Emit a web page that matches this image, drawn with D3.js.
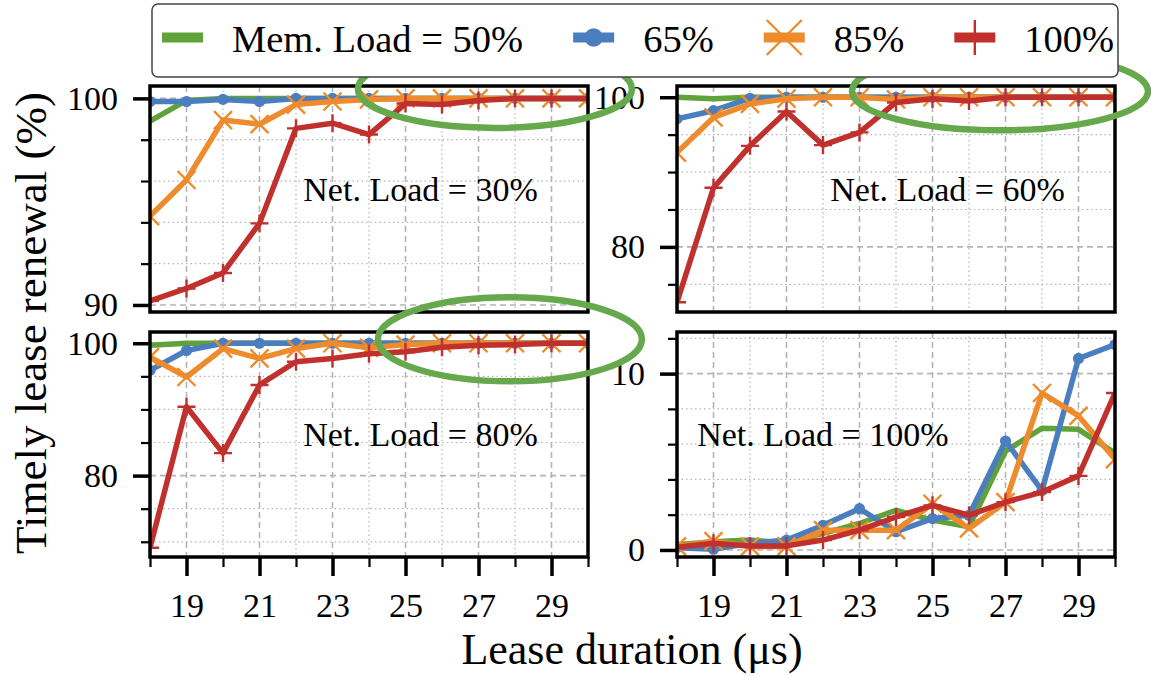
<!DOCTYPE html>
<html>
<head>
<meta charset="utf-8">
<script src="https://cdn.jsdelivr.net/npm/d3@7"></script>
<style>
  body { margin: 0; background: #fff; }
  text { font-family: "Liberation Serif", "DejaVu Serif", serif; fill: #000; }
</style>
</head>
<body>
<script>
// lease duration (us) on x
const leaseDurations = [18, 19, 20, 21, 22, 23, 24, 25, 26, 27, 28, 29, 30];
const xTickLabels = [19, 21, 23, 25, 27, 29];

const memLoads = ["Mem. Load = 50%", "65%", "85%", "100%"];
const netLoads = ["Net. Load = 30%", "Net. Load = 60%", "Net. Load = 80%", "Net. Load = 100%"];

// Net. Load = 30%
const net30Mem50  = [98.9, 99.9, 100, 100, 100, 100, 100, 100, 100, 100, 100, 100, 100];
const net30Mem65  = [99.85, 99.85, 99.95, 99.85, 100, 100, 100, 100, 100, 100, 100, 100, 100];
const net30Mem85  = [94.3, 96.05, 98.95, 98.75, 99.7, 99.85, 99.95, 100, 100, 100, 100, 100, 100];
const net30Mem100 = [90.2, 90.8, 91.55, 93.95, 98.55, 98.8, 98.25, 99.75, 99.7, 99.9, 100, 100, 100];

// Net. Load = 60%
const net60Mem50  = [100, 99.8, 100, 100, 100, 100, 100, 100, 100, 100, 100, 100, 100];
const net60Mem65  = [97.1, 98.2, 99.85, 100, 100, 100, 100, 100, 100, 100, 100, 100, 100];
const net60Mem85  = [92.6, 97.3, 99.1, 99.8, 100, 100, 99.7, 100, 100, 100, 100, 100, 100];
const net60Mem100 = [72.6, 87.9, 93.5, 98.1, 93.6, 95.3, 99.3, 99.8, 99.5, 100, 100, 100, 100];

// Net. Load = 80%
const net80Mem50  = [99.7, 100, 100, 100, 100, 100, 100, 100, 100, 100, 100, 100, 100];
const net80Mem65  = [95.9, 98.9, 100, 100, 100, 100, 100, 100, 100, 100, 100, 100, 100];
const net80Mem85  = [97.9, 94.9, 99.2, 97.7, 99.2, 100, 99.3, 99.8, 100, 100, 100, 100, 100];
const net80Mem100 = [69.1, 90.4, 83.4, 93.7, 97.2, 97.7, 98.4, 98.7, 99.4, 99.7, 99.8, 100, 100];

// Net. Load = 100%
const net100Mem50  = [0.3, 0.47, 0.56, 0.38, 0.94, 1.5, 2.25, 1.69, 1.31, 5.6, 6.9, 6.84, 5.5];
const net100Mem65  = [0.13, 0.04, 0.38, 0.56, 1.4, 2.34, 1.03, 1.78, 1.97, 6.18, 3.37, 10.86, 11.65];
const net100Mem85  = [0.2, 0.5, 0.2, 0.2, 1.12, 1.12, 1.12, 2.62, 1.22, 2.71, 8.9, 7.6, 5.15];
const net100Mem100 = [0.15, 0.38, 0.23, 0.23, 0.56, 1.12, 1.87, 2.53, 1.97, 2.71, 3.28, 4.2, 8.9];

// y axes of each panel
const yDomains    = [[89.66, 100.6], [71.3, 101.5], [67.7, 101.7], [-0.4, 12.36]];
const yMajorTicks = [[90, 100], [80, 100], [80, 100], [0, 10]];
const yMinorTicks = [[90, 92, 94, 96, 98, 100], [75, 80, 85, 90, 95, 100],
                     [70, 75, 80, 85, 90, 95, 100], [0, 2, 4, 6, 8, 10, 12]];

// highlight ovals (data coords, on panels 0,1,2)
const ovalPanels  = [0, 1, 2];
const ovalCenterX = [27.45, 26.85, 27.86];
const ovalCenterY = [100.46, 100.8, 100.6];

const panelSeries = [
  [net30Mem50, net30Mem65, net30Mem85, net30Mem100],
  [net60Mem50, net60Mem65, net60Mem85, net60Mem100],
  [net80Mem50, net80Mem65, net80Mem85, net80Mem100],
  [net100Mem50, net100Mem65, net100Mem85, net100Mem100]
];

const colors  = ["#5fa23a", "#4a7ebf", "#ee8b2c", "#c0312e"];
const markers = ["none", "circle", "x", "plus"];
const ovalColor = "#65a94c";

const width = 1151, height = 676;
const colLeft = [150, 677], plotW = 438;
const rowTop = [86, 332], plotH = [226, 225];
const ovalRx = [137, 148, 132], ovalRy = [39, 39, 42];

const svg = d3.select("body").append("svg")
  .attr("width", width).attr("height", height);

function drawMarker(g, type, color, s, sw) {
  if (type === "circle") {
    g.append("circle").attr("r", s * 0.62).attr("fill", color);
  } else if (type === "x") {
    g.append("path").attr("d", `M${-s},${-s}L${s},${s}M${-s},${s}L${s},${-s}`)
      .attr("stroke", color).attr("stroke-width", sw).attr("fill", "none");
  } else if (type === "plus") {
    g.append("path").attr("d", `M0,${-s}V${s}M${-s},0H${s}`)
      .attr("stroke", color).attr("stroke-width", sw).attr("fill", "none");
  }
}

const scales = [];

panelSeries.forEach((series, p) => {
  const col = p % 2, row = Math.floor(p / 2);
  const left = colLeft[col], top = rowTop[row], h = plotH[row];

  const x = d3.scaleLinear().domain([18, 30]).range([left, left + plotW]);
  const y = d3.scaleLinear().domain(yDomains[p]).range([top + h, top]);
  scales.push({ x, y });

  const g = svg.append("g");

  // grid
  const grid = g.append("g").attr("stroke", "#b5b5b5").attr("fill", "none");
  leaseDurations.filter(d => d > 18 && d < 30).forEach(d => {
    const major = xTickLabels.includes(d);
    grid.append("line")
      .attr("x1", x(d)).attr("x2", x(d)).attr("y1", top).attr("y2", top + h)
      .attr("stroke-width", major ? 1.6 : 1.2)
      .attr("stroke-dasharray", major ? "6,4" : "1.5,3");
  });
  yMinorTicks[p].forEach(v => {
    const major = yMajorTicks[p].includes(v);
    grid.append("line")
      .attr("x1", left).attr("x2", left + plotW).attr("y1", y(v)).attr("y2", y(v))
      .attr("stroke-width", major ? 1.6 : 1.2)
      .attr("stroke-dasharray", major ? "6,4" : "1.5,3");
  });

  // data
  const clipId = "clip" + p;
  svg.append("clipPath").attr("id", clipId).append("rect")
    .attr("x", left).attr("y", top).attr("width", plotW).attr("height", h);
  const plot = g.append("g").attr("clip-path", `url(#${clipId})`);

  const line = d3.line().x((d, i) => x(leaseDurations[i])).y(d => y(d));
  series.forEach((vals, s) => {
    plot.append("path").datum(vals)
      .attr("d", line)
      .attr("fill", "none").attr("stroke", colors[s])
      .attr("stroke-width", 5.5).attr("stroke-linejoin", "round");
    if (markers[s] !== "none") {
      vals.forEach((v, i) => {
        const m = plot.append("g").attr("transform", `translate(${x(leaseDurations[i])},${y(v)})`);
        drawMarker(m, markers[s], colors[s], 9, 2.4);
      });
    }
  });

  // frame
  g.append("rect").attr("x", left).attr("y", top).attr("width", plotW).attr("height", h)
    .attr("fill", "none").attr("stroke", "#000").attr("stroke-width", 3.5);

  // y axis: minor then major
  const yMinor = g.append("g").attr("transform", `translate(${left},0)`)
    .call(d3.axisLeft(y).tickValues(yMinorTicks[p]).tickSize(9).tickSizeOuter(0).tickFormat(""));
  const yMajor = g.append("g").attr("transform", `translate(${left},0)`)
    .call(d3.axisLeft(y).tickValues(yMajorTicks[p]).tickSize(17).tickSizeOuter(0).tickPadding(15));
  [yMinor, yMajor].forEach(a => a.select(".domain").remove());
  yMinor.selectAll("line").attr("stroke-width", 2.2);
  yMajor.selectAll("line").attr("stroke-width", 3.5);
  yMajor.selectAll("text").style("font-size", "34px").attr("font-family", null);

  // x axis only on bottom row
  if (row === 1) {
    const xMinor = g.append("g").attr("transform", `translate(0,${top + h})`)
      .call(d3.axisBottom(x).tickValues(leaseDurations).tickSize(10).tickSizeOuter(0).tickFormat(""));
    const xMajor = g.append("g").attr("transform", `translate(0,${top + h})`)
      .call(d3.axisBottom(x).tickValues(xTickLabels).tickSize(19).tickSizeOuter(0).tickPadding(17));
    [xMinor, xMajor].forEach(a => a.select(".domain").remove());
    xMinor.selectAll("line").attr("stroke-width", 2.2);
    xMajor.selectAll("line").attr("stroke-width", 3.5);
    xMajor.selectAll("text").style("font-size", "34px").attr("font-family", null);
  }

  // panel label (axes fraction)
  g.append("text")
    .attr("x", col === 1 && row === 1 ? left + plotW * 0.046 : left + plotW * 0.35)
    .attr("y", top + h * 0.455)
    .attr("dy", "0.35em")
    .style("font-size", "34px")
    .text(netLoads[p]);
});

// highlight ovals
ovalPanels.forEach((p, i) => {
  svg.append("ellipse")
    .attr("cx", scales[p].x(ovalCenterX[i]))
    .attr("cy", scales[p].y(ovalCenterY[i]))
    .attr("rx", ovalRx[i]).attr("ry", ovalRy[i])
    .attr("fill", "none").attr("stroke", ovalColor).attr("stroke-width", 6.5);
});

// axis titles
svg.append("text")
  .attr("transform", "translate(46,323) rotate(-90)")
  .attr("text-anchor", "middle")
  .style("font-size", "45px")
  .text("Timely lease renewal (%)");

svg.append("text")
  .attr("x", 632).attr("y", 664)
  .attr("text-anchor", "middle")
  .style("font-size", "44px")
  .text("Lease duration (\u03bcs)");

// legend
const legend = svg.append("g");
legend.append("rect")
  .attr("x", 152).attr("y", 4).attr("width", 966).attr("height", 73)
  .attr("rx", 6).attr("fill", "#fff").attr("stroke", "#444").attr("stroke-width", 1.5);

let lx = 162;
memLoads.forEach((label, s) => {
  const item = legend.append("g");
  item.append("line")
    .attr("x1", lx).attr("x2", lx + 41).attr("y1", 37.5).attr("y2", 37.5)
    .attr("stroke", colors[s]).attr("stroke-width", 10);
  if (markers[s] !== "none") {
    const m = item.append("g").attr("transform", `translate(${lx + 20.5},37.5)`);
    drawMarker(m, markers[s], colors[s], markers[s] === "circle" ? 15 : 17.5, 2.4);
  }
  const t = item.append("text")
    .attr("x", lx + 70).attr("y", 52)
    .style("font-size", "38.5px")
    .text(label);
  lx += 70 + t.node().getComputedTextLength() + 50;
});
</script>
</body>
</html>
